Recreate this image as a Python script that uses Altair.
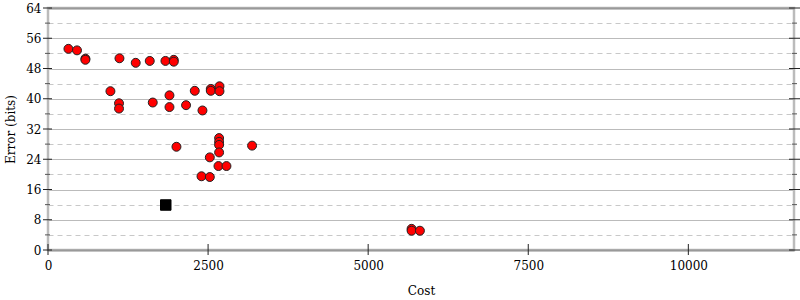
import altair as alt
import pandas as pd

# ---- data ----
cost = [319, 453, 584, 584, 1116, 1370, 1589, 1834, 1964, 1964,
        975, 1109, 1109, 1636, 1897, 1897, 2156, 2292, 2412, 2542, 2542, 2678, 2678,
        2006, 2672, 2672, 2672, 2672, 2527, 2662, 2787, 2397, 2527, 3187,
        5678, 5678, 5808]
error = [53.2, 52.8, 50.6, 50.3, 50.7, 49.5, 50.0, 50.0, 50.3, 49.8,
         42.0, 38.8, 37.4, 39.0, 40.9, 37.8, 38.3, 42.1, 36.9, 42.6, 42.1, 43.3, 42.0,
         27.3, 29.6, 28.6, 27.8, 25.8, 24.5, 22.2, 22.2, 19.5, 19.3, 27.6,
         5.6, 5.1, 5.1]
best_cost = [1839]
best_error = [11.9]

x_ticks = [0, 2500, 5000, 7500, 10000]
y_major = [0, 8, 16, 24, 32, 40, 48, 56, 64]
y_minor = [4, 12, 20, 28, 36, 44, 52, 60]

W, H = 746, 242
X_MAX = 11650
FONT = "DejaVu Serif"

pts = pd.DataFrame({"cost": cost, "error": error})
best = pd.DataFrame({"cost": best_cost, "error": best_error})
ymaj = pd.DataFrame({"error": y_major})
ymin = pd.DataFrame({"error": y_minor})
xt = pd.DataFrame({"cost": x_ticks})

xscale = alt.Scale(domain=[0, X_MAX], nice=False, zero=True)
yscale = alt.Scale(domain=[0, 64], nice=False)

x_axis = alt.Axis(values=x_ticks, grid=False, ticks=False, domain=False,
                  labelPadding=10, titlePadding=14, format="d",
                  labelFlush=False, labelOverlap=False)
edge = "datum.value === 0 || datum.value === 64"
y_axis = alt.Axis(
    values=sorted(y_major + y_minor), ticks=False, domain=False,
    labelExpr="datum.value % 8 === 0 ? datum.label : ''",
    labelPadding=7, titlePadding=8, labelOverlap=False, labelFlush=False,
    grid=True,
    gridColor={"condition": [
        {"test": edge, "value": "#999999"},
        {"test": "datum.value % 8 === 0", "value": "#bbbbbb"}], "value": "#c8c8c8"},
    gridWidth={"condition": {"test": edge, "value": 2}, "value": 1},
    gridDash={"condition": {"test": "datum.value % 8 === 0", "value": []}, "value": [5, 4]},
)

def X():
    return alt.X("cost:Q", scale=xscale, title="Cost", axis=x_axis)

def Y():
    return alt.Y("error:Q", scale=yscale, title="Error (bits)", axis=y_axis)

circles = alt.Chart(pts).mark_point(
    shape="circle", filled=True, fill="#ff0000", stroke="#222222",
    strokeWidth=1, size=80, opacity=1,
).encode(x=X(), y=Y())

square = alt.Chart(best).mark_point(
    shape="square", filled=True, fill="#000000", stroke="#000000",
    strokeWidth=1, size=110, opacity=1,
).encode(x=X(), y=Y())

def yrule(df, x1, x2, color):
    return alt.Chart(df).mark_rule(color=color, strokeWidth=1).encode(
        y=Y(), x=alt.value(x1), x2=alt.value(x2))

ticks = [
    yrule(ymaj, -5, 4, "#222222"),
    yrule(ymin, -3, 2, "#555555"),
    yrule(ymaj, W - 5, W + 6, "#222222"),
    yrule(ymin, W - 2, W + 3, "#555555"),
    alt.Chart(xt).mark_rule(color="#222222", strokeWidth=1).encode(
        x=X(), y=alt.value(H - 6), y2=alt.value(H + 5)),
]

chart = alt.layer(circles, square, *ticks).properties(
    width=W, height=H,
    autosize=alt.AutoSizeParams(type="none"),
    padding={"left": 48, "top": 8, "right": 6, "bottom": 50},
    background="white",
).configure_view(
    stroke="#bbbbbb", strokeWidth=2.5,
).configure_axis(
    labelFont=FONT, titleFont=FONT, labelFontSize=12, titleFontSize=12,
    labelColor="#000000", titleColor="#000000", titleFontWeight="normal",
)

chart.save("out.html", embed_options={"renderer": "svg", "actions": False})
